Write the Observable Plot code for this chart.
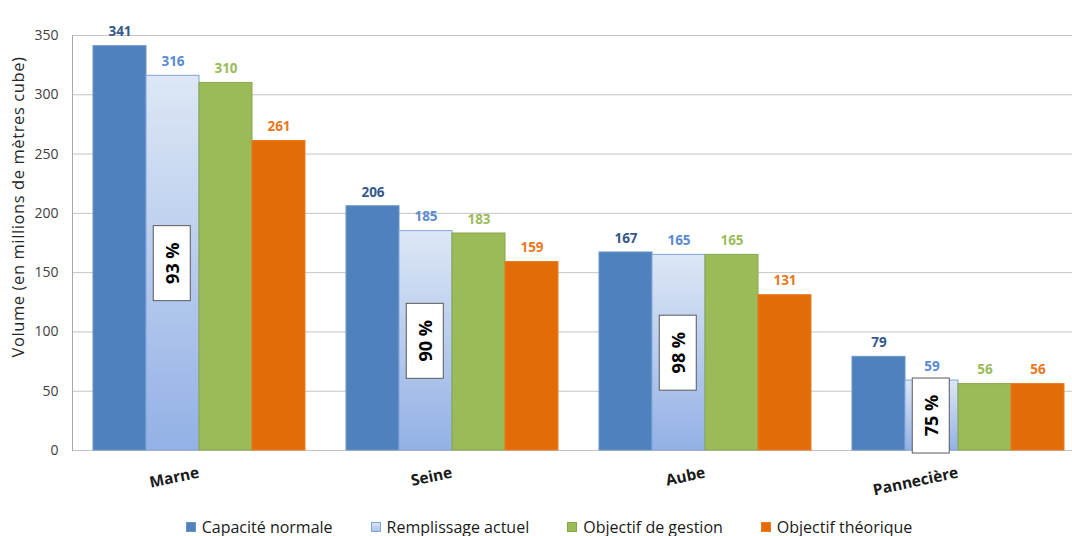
<!DOCTYPE html>
<html><head><meta charset="utf-8">
<script src="https://cdn.jsdelivr.net/npm/d3@7"></script>
<script src="https://cdn.jsdelivr.net/npm/@observablehq/plot@0.6"></script>
<style>
body{margin:0;background:#fff;font-family:"Open Sans",sans-serif;}
#legend{display:flex;justify-content:center;gap:38px;padding-left:26px;margin-top:6px;font-size:16px;color:#1a1a1a;line-height:22px;}
.item{display:flex;align-items:center;gap:6px}
.sw{width:8px;height:8px;display:inline-block}
</style></head><body><div id="chart"></div><div id="legend"></div>
<script>
const reservoirs = ["Marne", "Seine", "Aube", "Pannecière"];
const series = ["Capacité normale", "Remplissage actuel", "Objectif de gestion", "Objectif théorique"];
const capaciteNormale = [341, 206, 167, 79];
const remplissageActuel = [316, 185, 165, 59];
const objectifGestion = [310, 183, 165, 56];
const objectifTheorique = [261, 159, 131, 56];
const tauxRemplissage = [93, 90, 98, 75];
const yTicks = [0, 50, 100, 150, 200, 250, 300, 350];
const yLabel = "Volume (en millions de mètres cube)";

const fillColor = {"Capacité normale": "#4f81bd", "Remplissage actuel": "url(#remplGrad)", "Objectif de gestion": "#9bbb59", "Objectif théorique": "#e36c09"};
const strokeColor = {"Capacité normale": "#6a94c9", "Remplissage actuel": "#80a4dc", "Objectif de gestion": "#87a64c", "Objectif théorique": "#ec7a20"};
const labelColor = {"Capacité normale": "#34598a", "Remplissage actuel": "#5a8bd0", "Objectif de gestion": "#9bbb59", "Objectif théorique": "#e8781e"};
const swatch = {"Capacité normale": "#4f81bd", "Remplissage actuel": "linear-gradient(#dce6f4,#a9c1ea)", "Objectif de gestion": "#9bbb59", "Objectif théorique": "#e36c09"};

const values = [capaciteNormale, remplissageActuel, objectifGestion, objectifTheorique];
const table = reservoirs.flatMap((r, i) => series.map((s, j) => ({reservoir: r, serie: s, volume: values[j][i]})));
const pct = reservoirs.map((r, i) => ({reservoir: r, serie: series[1], volume: remplissageActuel[i], taux: tauxRemplissage[i]}));

const chart = Plot.plot({
  width: 1072, height: 510,
  marginTop: 35, marginBottom: 60, marginLeft: 72, marginRight: -12,
  style: {fontFamily: "Open Sans", fontSize: "14px", background: "white", overflow: "visible"},
  fx: {domain: reservoirs, padding: 0, label: null, axis: null},
  x: {domain: series, paddingInner: 0, paddingOuter: 0.3756, axis: null},
  y: {domain: [0, 350], label: null, axis: null},
  color: {type: "identity"},
  marks: [
    Plot.gridY(yTicks, {stroke: "#c4c4c4", strokeOpacity: 1}),
    Plot.frame({anchor: "left", facetAnchor: "left", stroke: "#a8a8a8"}),
    Plot.barY(table, {fx: "reservoir", x: "serie", y: "volume", fill: d => fillColor[d.serie], stroke: d => strokeColor[d.serie], strokeWidth: 1}),
    Plot.text(table, {fx: "reservoir", x: "serie", y: "volume", text: d => String(d.volume), fill: d => labelColor[d.serie], dy: -14, fontWeight: "bold", fontSize: 13.5}),
    Plot.text(pct, {fx: "reservoir", x: "serie", y: d => d.volume / 2, text: d => `${d.taux} %`, rotate: -90, fontWeight: "bold", fontSize: 18, fill: "#000"}),
    Plot.axisY(yTicks, {tickSize: 0, tickPadding: 14, fontSize: 14, fill: "#404040", label: null}),
    Plot.text([yLabel], {text: d => d, frameAnchor: "left", facetAnchor: "left", textAnchor: "middle", rotate: -90, dx: -54, dy: -36, fontSize: 16.5, fill: "#262626"}),
    Plot.axisFx({anchor: "bottom", tickSize: 0, tickRotate: -12, fontWeight: "bold", fontSize: 15.5, tickPadding: 22, fill: "#1a1a1a", label: null})
  ]
});
document.getElementById("chart").append(chart);

const defs = d3.select(chart).insert("defs", ":first-child");
const grad = defs.append("linearGradient").attr("id", "remplGrad").attr("x1", 0).attr("y1", 0).attr("x2", 0).attr("y2", 1);
grad.append("stop").attr("offset", "0%").attr("stop-color", "#dde7f5");
grad.append("stop").attr("offset", "100%").attr("stop-color", "#93b1e6");

// y label letter spacing
d3.select(chart).selectAll("text").filter(function() { return this.textContent === yLabel; }).style("letter-spacing", "0.6px");

// boxes round the percentage labels
d3.select(chart).selectAll("text").filter(function() { return /^\d+ %$/.test(this.textContent); }).each(function() {
  const b = this.getBBox();
  const r = document.createElementNS("http://www.w3.org/2000/svg", "rect");
  const w = 75, h = 37;
  r.setAttribute("x", b.x + b.width / 2 - w / 2);
  r.setAttribute("y", b.y + b.height / 2 - h / 2);
  r.setAttribute("width", w);
  r.setAttribute("height", h);
  r.setAttribute("fill", "white");
  r.setAttribute("stroke", "#595959");
  if (this.getAttribute("transform")) r.setAttribute("transform", this.getAttribute("transform"));
  this.parentNode.insertBefore(r, this);
});

const legend = document.getElementById("legend");
series.forEach(s => {
  const it = document.createElement("div");
  it.className = "item";
  const sw = document.createElement("span");
  sw.className = "sw";
  sw.style.background = swatch[s];
  sw.style.border = "1px solid " + strokeColor[s];
  const t = document.createElement("span");
  t.textContent = s;
  it.append(sw, t);
  legend.append(it);
});
</script>
</body></html>
